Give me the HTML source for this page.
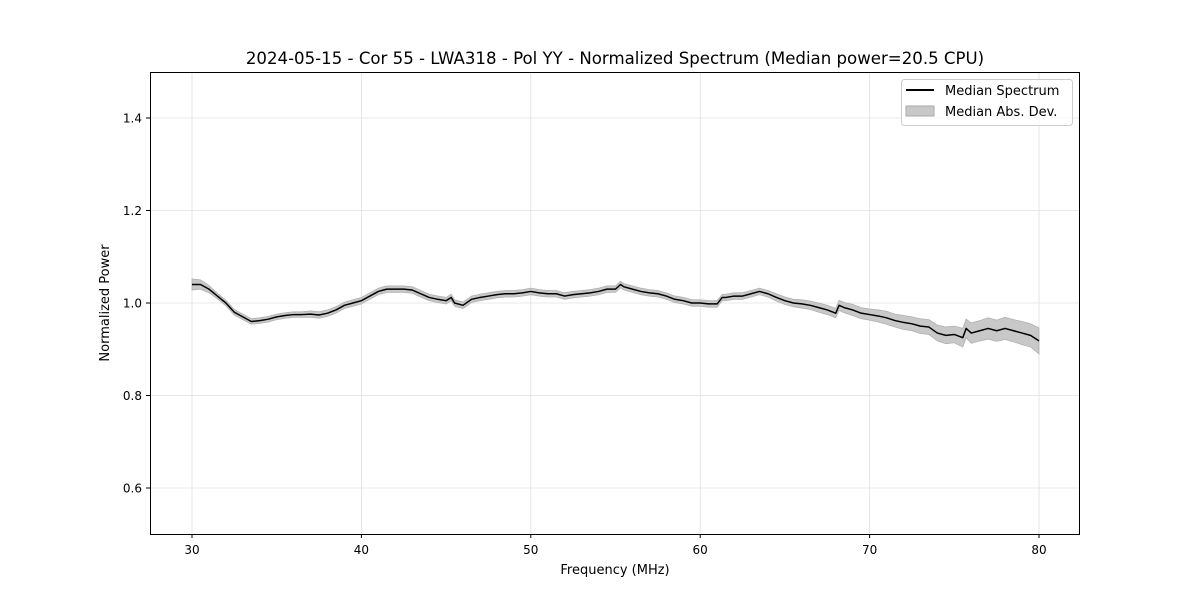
<!DOCTYPE html>
<html><head><meta charset="utf-8"><style>
body{margin:0;background:#fff;font-family:"Liberation Sans","DejaVu Sans",sans-serif}
svg text{font-family:"DejaVu Sans","Liberation Sans",sans-serif;fill:#000}
</style></head><body>
<svg id="chart" width="1200" height="600" xmlns="http://www.w3.org/2000/svg">
<rect width="1200" height="600" fill="#fff"/>
<g id="grid"></g>
<g id="band"></g>
<g id="line"></g>
<rect x="150.5" y="72.5" width="929" height="462" fill="none" stroke="#000" stroke-width="1"/>
<g id="ticks"></g>
<text x="615" y="64" font-size="16.6" text-anchor="middle">2024-05-15 - Cor 55 - LWA318 - Pol YY - Normalized Spectrum (Median power=20.5 CPU)</text>
<text x="615" y="574" font-size="13" text-anchor="middle">Frequency (MHz)</text>
<text transform="translate(109,303) rotate(-90)" font-size="13" text-anchor="middle">Normalized Power</text>
<g>
<rect x="901.5" y="79.5" width="171" height="46" rx="3" fill="#fff" fill-opacity="0.8" stroke="#ccc"/>
<g><line x1="906" y1="90" x2="934" y2="90" stroke="#000" stroke-width="2"/><text x="945" y="95" font-size="13">Median Spectrum</text></g>
<g><rect x="906" y="106" width="28" height="10" fill="#c8c8c8" stroke="#aaa"/><text x="945" y="116" font-size="13">Median Abs. Dev.</text></g>
</g>
</svg>
<script>
const freqs=[30,30.5,31,31.5,32,32.5,33,33.5,34,34.5,35,35.5,36,36.5,37,37.5,38,38.5,39,39.5,40,40.5,41,41.5,42,42.5,43,43.5,44,44.5,45,45.3,45.5,46,46.5,47,47.5,48,48.5,49,49.5,50,50.5,51,51.5,52,52.5,53,53.5,54,54.5,55,55.3,55.5,56,56.5,57,57.5,58,58.5,59,59.5,60,60.5,61,61.3,61.5,62,62.5,63,63.5,64,64.5,65,65.5,66,66.5,67,67.5,68,68.2,68.5,69,69.5,70,70.5,71,71.5,72,72.5,73,73.5,74,74.5,75,75.5,75.7,76,76.5,77,77.5,78,78.5,79,79.5,80];
const median=[1.04,1.04,1.03,1.015,1.0,0.98,0.97,0.96,0.962,0.965,0.97,0.973,0.975,0.975,0.976,0.974,0.978,0.985,0.995,1.0,1.005,1.015,1.025,1.03,1.03,1.03,1.028,1.02,1.012,1.008,1.005,1.012,1.0,0.995,1.008,1.012,1.015,1.018,1.02,1.02,1.022,1.025,1.022,1.02,1.02,1.015,1.018,1.02,1.022,1.025,1.03,1.03,1.04,1.035,1.03,1.025,1.022,1.02,1.015,1.008,1.005,1.0,1.0,0.998,0.998,1.012,1.012,1.015,1.015,1.02,1.025,1.02,1.012,1.005,1.0,0.998,0.995,0.99,0.985,0.978,0.995,0.99,0.985,0.978,0.975,0.972,0.968,0.962,0.958,0.955,0.95,0.948,0.935,0.93,0.932,0.925,0.945,0.935,0.94,0.945,0.94,0.945,0.94,0.935,0.93,0.918];
const mad=[0.012,0.01,0.008,0.006,0.006,0.006,0.006,0.006,0.006,0.006,0.006,0.006,0.006,0.006,0.007,0.007,0.007,0.007,0.007,0.007,0.007,0.007,0.007,0.007,0.007,0.007,0.007,0.007,0.007,0.007,0.007,0.007,0.007,0.007,0.007,0.007,0.007,0.007,0.007,0.007,0.007,0.007,0.007,0.007,0.007,0.007,0.007,0.007,0.007,0.007,0.007,0.007,0.007,0.007,0.007,0.007,0.007,0.007,0.007,0.007,0.007,0.007,0.007,0.007,0.007,0.007,0.007,0.007,0.007,0.007,0.007,0.007,0.008,0.008,0.008,0.009,0.009,0.01,0.01,0.01,0.011,0.011,0.012,0.012,0.012,0.013,0.014,0.014,0.015,0.015,0.016,0.016,0.017,0.018,0.018,0.02,0.02,0.022,0.022,0.023,0.023,0.024,0.024,0.025,0.025,0.028];
const xTicks=[30,40,50,60,70,80];
const yTicks=[0.6,0.8,1.0,1.2,1.4];
const xS=v=>192+(v-30)*16.94;
const yS=v=>534.25-(v-0.5)*462.5;
const NS='http://www.w3.org/2000/svg';
function mk(t,a,p){const e=document.createElementNS(NS,t);for(const k in a)e.setAttribute(k,a[k]);p.appendChild(e);return e;}
const grid=document.getElementById('grid'),ticks=document.getElementById('ticks');
xTicks.forEach(v=>{const x=xS(v);
 const g=mk('line',{x1:x,x2:x,y1:72,y2:534,stroke:'#e0e0e0','stroke-width':0.8},grid);
 
 
 mk('line',{x1:x,x2:x,y1:534,y2:538,stroke:'#000'},ticks);
 const t=mk('text',{x:x,y:554,'font-size':12,'text-anchor':'middle'},ticks);t.textContent=v;
 
 });
yTicks.forEach(v=>{const y=yS(v);
 const g=mk('line',{x1:150,x2:1080,y1:y,y2:y,stroke:'#e0e0e0','stroke-width':0.8},grid);
 
 
 mk('line',{x1:146,x2:150,y1:y,y2:y,stroke:'#000'},ticks);
 const t=mk('text',{x:142,y:y+4.5,'font-size':12,'text-anchor':'end'},ticks);t.textContent=v.toFixed(1);
 
 });
let up=freqs.map((f,i)=>xS(f)+','+yS(median[i]+mad[i]));
let dn=freqs.map((f,i)=>xS(f)+','+yS(median[i]-mad[i])).reverse();
const b=mk('polygon',{points:up.concat(dn).join(' '),fill:'#c8c8c8',stroke:'#b0b0b0','stroke-width':0.8},document.getElementById('band'));


const l=mk('polyline',{points:freqs.map((f,i)=>xS(f)+','+yS(median[i])).join(' '),fill:'none',stroke:'#000','stroke-width':1.5,'stroke-linejoin':'round'},document.getElementById('line'));


</script>
</body></html>
